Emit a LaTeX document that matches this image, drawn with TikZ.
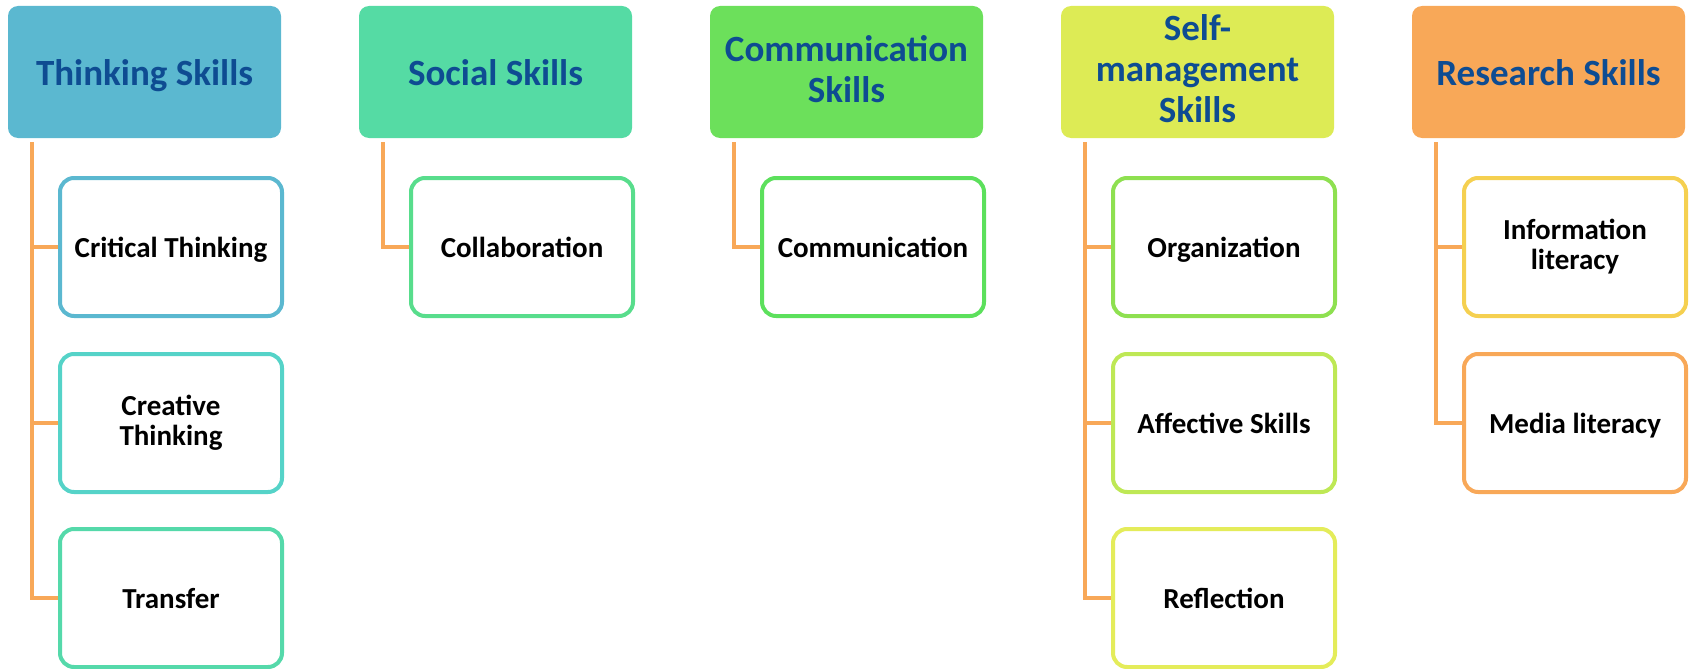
\documentclass[tikz,border=0pt]{standalone}
\usepackage{fontspec}
\setmainfont{Carlito}
\usepackage{tikz}

\definecolor{hdrtext}{RGB}{14,76,146}
\definecolor{linkorange}{RGB}{248,168,88}
\definecolor{thinkblue}{RGB}{91,184,208}
\definecolor{socialmint}{RGB}{85,219,164}
\definecolor{commgreen}{RGB}{108,224,91}
\definecolor{selflime}{RGB}{221,235,85}
\definecolor{researchorange}{RGB}{248,168,88}
\definecolor{creatteal}{RGB}{85,211,200}
\definecolor{transfmint}{RGB}{85,217,170}
\definecolor{collabgreen}{RGB}{88,221,140}
\definecolor{commungreen}{RGB}{92,224,92}
\definecolor{organgreen}{RGB}{142,224,80}
\definecolor{affectlime}{RGB}{190,232,85}
\definecolor{reflectyellow}{RGB}{228,236,90}
\definecolor{infoyellow}{RGB}{245,208,80}

\newcommand{\hdrstrut}{\rule[-6pt]{0pt}{39pt}}
\newcommand{\skillstrut}{\rule[-4.5pt]{0pt}{29.5pt}}

\begin{document}
\begin{tikzpicture}[x=1pt, y=-1pt]

\tikzstyle{header}=[rounded corners=10pt, minimum width=273pt, minimum height=132pt,
  inner sep=0pt, align=center, text=hdrtext, font=\fontsize{37}{41}\selectfont\bfseries,
  execute at begin node=\hdrstrut, execute at end node=\hdrstrut]
\tikzstyle{skill}=[draw, line width=4pt, rounded corners=14pt, fill=white,
  minimum width=222pt, minimum height=138pt, inner sep=0pt, align=center,
  text=black, font=\fontsize{29}{30}\selectfont\bfseries,
  execute at begin node=\skillstrut, execute at end node=\skillstrut]
\tikzstyle{link}=[draw=linkorange, line width=4.5pt]

\useasboundingbox (0,0) rectangle (1689,669);

% category headers
\draw    (144.5,  72) node[header, fill=thinkblue]      (thinking) {Thinking Skills}
         (495.5,  72) node[header, fill=socialmint]     (social)   {Social Skills}
         (846.5,  72) node[header, fill=commgreen]      (comm)     {Communication\\Skills}
         (1197.5, 72) node[header, fill=selflime]       (selfman)  {Self-\\management\\Skills}
         (1548.5, 72) node[header, fill=researchorange] (research) {Research Skills};

% trunk starts
\coordinate (thinktop)  at (32,   142);
\coordinate (socialtop) at (383,  142);
\coordinate (commtop)   at (734,  142);
\coordinate (selftop)   at (1085, 142);
\coordinate (restop)    at (1436, 142);

% links
\draw[link] (thinktop)  |- (171, 247);
\draw[link] (thinktop)  |- (171, 423);
\draw[link] (thinktop)  |- (171, 598);
\draw[link] (socialtop) |- (522, 247);
\draw[link] (commtop)   |- (873, 247);
\draw[link] (selftop)   |- (1224, 247);
\draw[link] (selftop)   |- (1224, 423);
\draw[link] (selftop)   |- (1224, 598);
\draw[link] (restop)    |- (1575, 247);
\draw[link] (restop)    |- (1575, 423);

% skills
\draw    (171,  247) node[skill, draw=thinkblue]     (crit)     {Critical Thinking}
         (171,  423) node[skill, draw=creatteal]     (creat)    {Creative\\Thinking}
         (171,  598) node[skill, draw=transfmint]    (transf)   {Transfer}
         (522,  247) node[skill, draw=collabgreen]   (collab)   {Collaboration}
         (873,  247) node[skill, draw=commungreen]   (commun)   {Communication}
         (1224, 247) node[skill, draw=organgreen]    (organ)    {Organization}
         (1224, 423) node[skill, draw=affectlime]    (affect)   {Affective Skills}
         (1224, 598) node[skill, draw=reflectyellow] (reflect)  {Reflection}
         (1575, 247) node[skill, draw=infoyellow]    (infolit)  {Information\\literacy}
         (1575, 423) node[skill, draw=researchorange] (medialit) {Media literacy};

\end{tikzpicture}
\end{document}
